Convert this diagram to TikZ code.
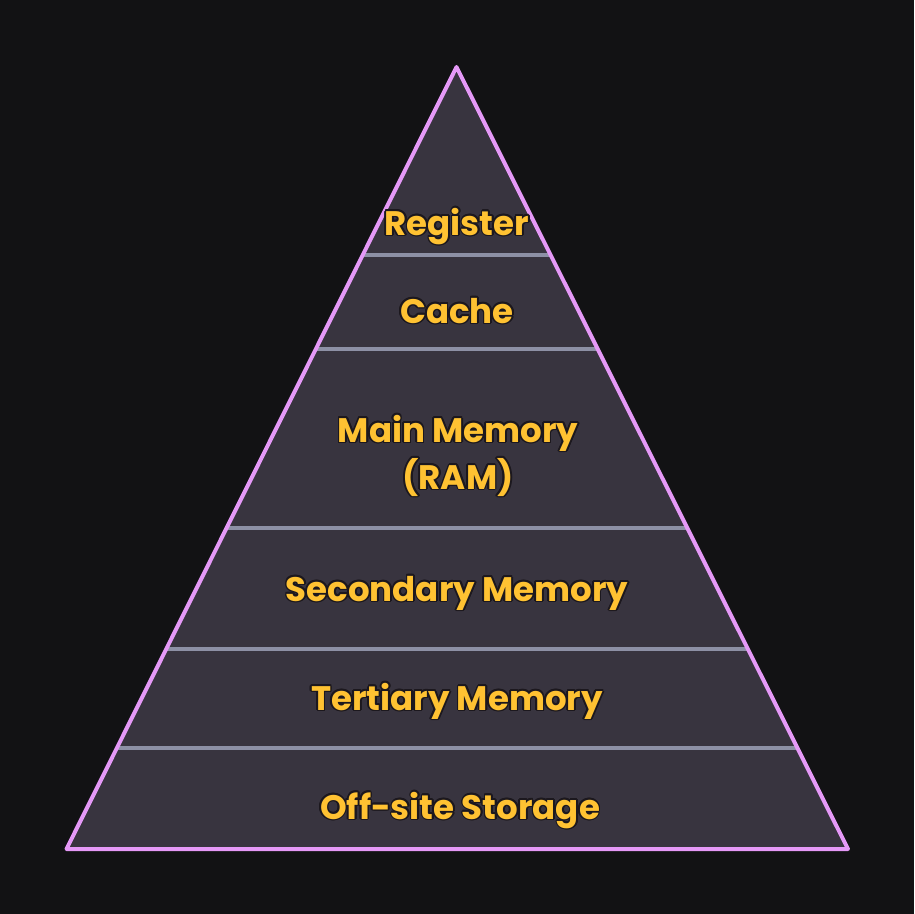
\documentclass[tikz,border=0pt]{standalone}
\usepackage{fontspec}
\setmainfont{Poppins}
\usetikzlibrary{calc}
\definecolor{bg}{HTML}{121214}
\definecolor{tri}{HTML}{38343F}
\definecolor{edge}{HTML}{E599F7}
\definecolor{sep}{HTML}{8D90A5}
\definecolor{txt}{HTML}{FFC232}
\definecolor{outl}{HTML}{1C181E}
\newcommand\lbl[3]{%
  \foreach \a in {0,30,...,330}{\node[lbltext,text=outl] at ($(#2)+(\a:1.8)$) {#3};}
  \node[lbltext] (#1) at (#2) {#3};}
\begin{document}
\begin{tikzpicture}[x=1pt,y=-1pt,
  lbltext/.style={anchor=base,inner sep=0pt,text=txt,font=\fontsize{34}{41}\selectfont\bfseries},
  seprule/.style={draw=sep,line width=4pt},
  outline/.style={draw=edge,line width=4pt,line join=round}]
\fill[bg] (0,0) rectangle (914,914);
\useasboundingbox (0,0) rectangle (914,914);
\coordinate (A) at (456.5,67);
\coordinate (L) at (66.5,849);
\coordinate (R) at (848,849);
\fill[tri] (A) -- (L) -- (R) -- cycle;
\foreach \t [count=\i] in {0.2404,0.3606,0.5895,0.7442,0.8708}{
  \coordinate (s\i l) at ($(A)!\t!(L)$);
  \coordinate (s\i r) at ($(A)!\t!(R)$);
  \draw[seprule] (s\i l) -- (s\i r);
}
\draw[outline] (A) -- (L) -- (R) -- cycle;
\coordinate (p1) at (457,235);
\coordinate (p2) at (457,323);
\coordinate (p3) at (458,442);
\coordinate (p4) at (458,489);
\coordinate (p5) at (457,601);
\coordinate (p6) at (457,710);
\coordinate (p7) at (460,819);
\lbl{reg}{p1}{Register}
\lbl{cache}{p2}{Cache}
\lbl{main}{p3}{Main Memory}
\lbl{ram}{p4}{(RAM)}
\lbl{sec}{p5}{Secondary Memory}
\lbl{ter}{p6}{Tertiary Memory}
\lbl{off}{p7}{Off-site Storage}
\end{tikzpicture}
\end{document}
